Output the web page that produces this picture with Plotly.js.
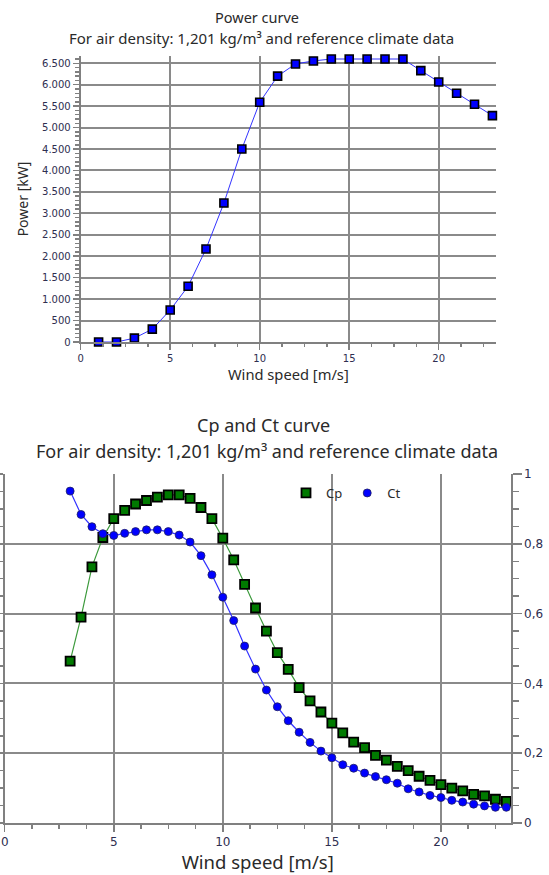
<!DOCTYPE html>
<html><head><meta charset="utf-8">
<script src="https://cdn.plot.ly/plotly-3.0.1.min.js"></script>
<style>html,body{margin:0;padding:0;background:#fff;} #chart{width:549px;height:875px;}</style>
</head><body><div id="chart"></div>
<script>
// ---- Power curve data ----
const powerWind = [1,2,3,4,5,6,7,8,9,10,11,12,13,14,15,16,17,18,19,20,21,22,23];
const powerKW = [0,0,90,300,745,1300,2170,3240,4500,5590,6200,6485,6555,6600,6600,6600,6600,6600,6330,6065,5800,5545,5280];
const powerYTicks = [0,500,1000,1500,2000,2500,3000,3500,4000,4500,5000,5500,6000,6500];
const windTicks = [0,5,10,15,20];

// ---- Cp / Ct curve data ----
const coefWind = [3,3.5,4,4.5,5,5.5,6,6.5,7,7.5,8,8.5,9,9.5,10,10.5,11,11.5,12,12.5,13,13.5,14,14.5,15,15.5,16,16.5,17,17.5,18,18.5,19,19.5,20,20.5,21,21.5,22,22.5,23];
const cpValues = [0.232,0.295,0.367,0.409,0.436,0.448,0.457,0.462,0.467,0.470,0.470,0.465,0.452,0.436,0.408,0.377,0.342,0.308,0.275,0.244,0.220,0.194,0.175,0.159,0.143,0.129,0.116,0.108,0.097,0.090,0.081,0.075,0.067,0.061,0.055,0.050,0.046,0.041,0.039,0.034,0.031];
const ctValues = [0.951,0.884,0.849,0.829,0.824,0.830,0.835,0.840,0.840,0.835,0.825,0.805,0.766,0.711,0.647,0.580,0.507,0.441,0.381,0.333,0.293,0.260,0.231,0.206,0.187,0.167,0.157,0.143,0.133,0.124,0.114,0.098,0.089,0.079,0.073,0.065,0.060,0.054,0.049,0.045,0.045];
const ctTicks = [0,0.2,0.4,0.6,0.8,1];
const ctTickLabels = ['0','0,2','0,4','0,6','0,8','1'];
const cpGridTicks = [0.1,0.2,0.3,0.4];

const W = 549, H = 875;
const px = x => x / W;
const py = y => 1 - y / H;

const gridColor = '#8a8a8a';
const axisColor = '#808080';
const tickColor = '#2e2e50';
const textColor = '#2a2a2a';
const tickFamily = 'DejaVu Sans, Verdana, sans-serif';
const titleFamily = 'Noto Sans, Open Sans, sans-serif';

const traces = [
  {
    x: powerWind, y: powerKW, xaxis: 'x', yaxis: 'y', type: 'scatter', mode: 'lines+markers',
    name: 'Power', showlegend: false, cliponaxis: false,
    line: {color: '#3434ff', width: 1},
    marker: {symbol: 'square', size: 8, color: '#0000ff', line: {color: '#000000', width: 1.6}}
  },
  {
    x: coefWind, y: cpValues, xaxis: 'x2', yaxis: 'y3', type: 'scatter', mode: 'lines',
    name: 'Cp', showlegend: false, cliponaxis: false,
    line: {color: '#3c9a3c', width: 1.2}
  },
  {
    x: coefWind, y: cpValues, xaxis: 'x2', yaxis: 'y3', type: 'scatter', mode: 'markers',
    name: 'Cp', showlegend: true, cliponaxis: false,
    marker: {symbol: 'square', size: 9, color: '#007a00', line: {color: '#000000', width: 1.8}}
  },
  {
    x: coefWind, y: ctValues, xaxis: 'x2', yaxis: 'y4', type: 'scatter', mode: 'lines',
    name: 'Ct', showlegend: false, cliponaxis: false,
    line: {color: '#3434ff', width: 1.2}
  },
  {
    x: coefWind, y: ctValues, xaxis: 'x2', yaxis: 'y4', type: 'scatter', mode: 'markers',
    name: 'Ct', showlegend: true, cliponaxis: false,
    marker: {symbol: 'circle', size: 8, color: '#0000ff', line: {color: '#202060', width: 0.8}}
  }
];

const commonX = {
  range: [0, 23.2], tickvals: windTicks, ticks: 'outside', ticklen: 6, tickwidth: 1.5, tickcolor: axisColor,
  showline: true, linecolor: axisColor, linewidth: 2, showgrid: true, gridcolor: gridColor, gridwidth: 2,
  zeroline: false, fixedrange: true,
  minor: {dtick: 1.25, tick0: 0, ticks: 'outside', ticklen: 3, tickwidth: 1.5, tickcolor: axisColor, showgrid: false}
};

const layout = {
  width: W, height: H,
  margin: {l: 0, r: 0, t: 0, b: 0},
  paper_bgcolor: '#ffffff', plot_bgcolor: 'rgba(0,0,0,0)',
  separators: ',.',
  showlegend: true,
  legend: {orientation: 'h', x: px(286), xanchor: 'left', y: py(493), yanchor: 'middle',
           bgcolor: 'rgba(0,0,0,0)', font: {family: titleFamily, size: 13, color: textColor}, itemclick: false},
  xaxis: Object.assign({}, commonX, {
    domain: [px(80.7), px(496)], anchor: 'y',
    tickfont: {family: tickFamily, size: 10, color: tickColor},
    title: {text: 'Wind speed [m/s]', font: {family: titleFamily, size: 14.7, color: textColor}, standoff: 3}
  }),
  yaxis: {
    domain: [py(342), py(56)], anchor: 'x', range: [0, 6670], tickvals: powerYTicks, separatethousands: true,
    ticks: 'outside', ticklen: 6, tickwidth: 1.5, tickcolor: axisColor,
    showline: true, linecolor: axisColor, linewidth: 2, showgrid: true, gridcolor: gridColor, gridwidth: 2,
    zeroline: false, fixedrange: true,
    minor: {dtick: 100, tick0: 0, ticks: 'outside', ticklen: 3.5, tickwidth: 1.5, tickcolor: axisColor, showgrid: false},
    tickfont: {family: tickFamily, size: 10, color: tickColor},
    title: {text: 'Power [kW]', font: {family: titleFamily, size: 14, color: textColor}, standoff: 10}
  },
  xaxis2: Object.assign({}, commonX, {
    domain: [px(4.7), px(510.7)], anchor: 'y3',
    ticklen: 7, minor: Object.assign({}, commonX.minor, {ticklen: 4}),
    tickfont: {family: tickFamily, size: 12, color: tickColor},
    title: {text: 'Wind speed [m/s]', font: {family: titleFamily, size: 18.5, color: textColor}, standoff: 1}
  }),
  yaxis3: {
    domain: [py(823), py(474)], anchor: 'x2', side: 'left', range: [0, 0.5],
    tickvals: cpGridTicks, showticklabels: false, ticks: 'outside', ticklen: 5, tickwidth: 1.5, tickcolor: axisColor,
    showline: true, linecolor: axisColor, linewidth: 2, showgrid: true, gridcolor: gridColor, gridwidth: 2,
    zeroline: false, fixedrange: true,
    minor: {dtick: 0.025, tick0: 0, ticks: 'outside', ticklen: 5, tickwidth: 1.5, tickcolor: axisColor, showgrid: false}
  },
  yaxis4: {
    overlaying: 'y3', anchor: 'x2', side: 'right', range: [0, 1],
    tickvals: ctTicks, ticktext: ctTickLabels, ticks: 'outside', ticklen: 9, tickwidth: 1.5, tickcolor: axisColor,
    showline: true, linecolor: axisColor, linewidth: 2, showgrid: false, zeroline: false, fixedrange: true,
    minor: {dtick: 0.05, tick0: 0, ticks: 'outside', ticklen: 6, tickwidth: 1.5, tickcolor: axisColor, showgrid: false},
    tickfont: {family: tickFamily, size: 12, color: tickColor}
  },
  annotations: [
    {text: 'Power curve', xref: 'paper', yref: 'paper', x: px(257), y: py(17), xanchor: 'center', yanchor: 'middle',
     showarrow: false, font: {family: titleFamily, size: 14.5, color: textColor}},
    {text: 'For air density: 1,201 kg/m³ and reference climate data', xref: 'paper', yref: 'paper', x: px(261), y: py(38),
     xanchor: 'center', yanchor: 'middle', showarrow: false, font: {family: titleFamily, size: 15, color: textColor}},
    {text: 'Cp and Ct curve', xref: 'paper', yref: 'paper', x: px(263), y: py(425), xanchor: 'center', yanchor: 'middle',
     showarrow: false, font: {family: titleFamily, size: 18, color: textColor}},
    {text: 'For air density: 1,201 kg/m³ and reference climate data', xref: 'paper', yref: 'paper', x: px(267), y: py(451),
     xanchor: 'center', yanchor: 'middle', showarrow: false, font: {family: titleFamily, size: 18, color: textColor}}
  ]
};

Plotly.newPlot('chart', traces, layout, {displayModeBar: false, staticPlot: true});
</script>
</body></html>
